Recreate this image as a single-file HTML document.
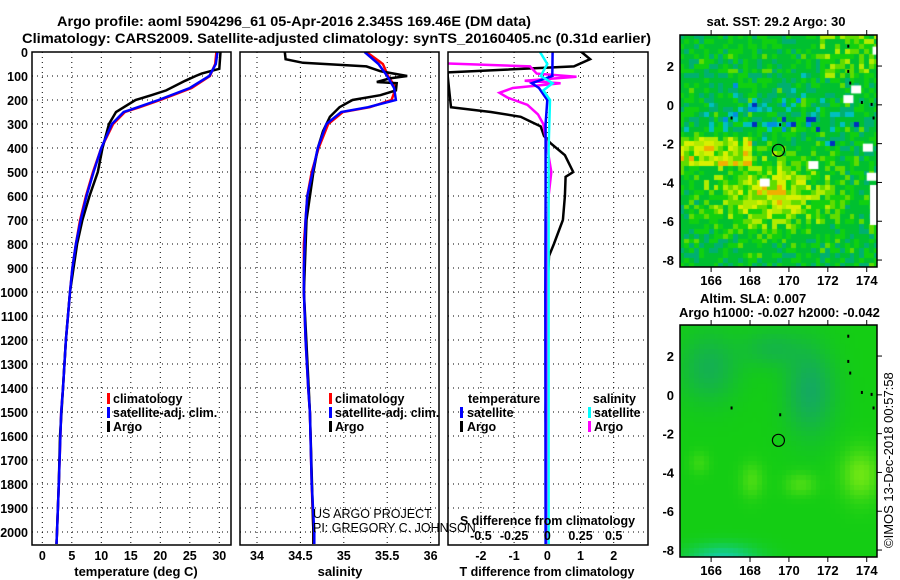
<!DOCTYPE html>
<html><head><meta charset="utf-8"><style>
body{margin:0;background:#fff;width:900px;height:580px;overflow:hidden}
svg{position:absolute;left:0;top:0}
canvas{position:absolute}
text{font-family:"Liberation Sans",sans-serif;font-weight:bold;font-size:12.5px;fill:#000}
</style></head><body>
<canvas id="map1" width="197" height="232" style="left:680px;top:35px"></canvas>
<canvas id="map2" width="197" height="232" style="left:680px;top:325px"></canvas>
<svg id="svg" width="900" height="580"></svg>
<script>
// ---- data (depth in m) ----
const climDepth=[0,50,100,150,200,230,250,300,400,500,600,700,800,900,1000,1200,1400,1500,1800,2000,2050];
const climTemp=[29.5,29.3,28.4,25.3,20,16.5,14,12,10,8.6,7.4,6.4,5.7,5.1,4.7,4.0,3.5,3.2,2.8,2.5,2.4];
const satTemp=[29.7,29.4,28.3,25.0,19.7,16.2,13.8,11.8,10,8.7,7.5,6.5,5.7,5.1,4.7,4.0,3.5,3.2,2.8,2.5,2.4];
const argoDepth=[0,70,90,100,120,160,180,200,250,300,400,500,600,700,800,1000,1200,1400,1600,1800,2000,2050];
const argoTemp=[30.2,30,27,26,24.2,21,18.5,15.8,12.5,11.3,10.2,9.4,8.0,6.8,5.9,4.7,4.0,3.5,3.0,2.8,2.5,2.4];
const climSal=[35.26,35.45,35.51,35.6,35.55,35.3,34.99,34.82,34.71,34.63,34.58,34.56,34.54,34.54,34.54,34.56,34.59,34.61,34.63,34.65,34.65];
const satSal=[35.24,35.4,35.5,35.58,35.6,35.28,34.97,34.8,34.7,34.64,34.58,34.56,34.55,34.54,34.54,34.56,34.59,34.61,34.63,34.66,34.66];
const argoSalDepth=[0,30,45,60,80,100,110,125,130,160,180,200,230,270,330,400,500,700,1000,1500,2000,2050];
const argoSal=[34.32,34.33,34.53,35.26,35.42,35.73,35.53,35.38,35.61,35.6,35.42,35.1,34.95,34.84,34.76,34.7,34.65,34.57,34.54,34.61,34.65,34.65];
const dTDepth=[0,30,60,85,100,230,250,270,290,310,350,380,430,500,520,600,700,800,850,1000,1500,2050];
const dTArgo=[1.03,1.29,0.8,-3,-3,-2.9,-1.7,-0.8,-0.5,-0.2,-0.1,0.1,0.53,0.78,0.55,0.53,0.47,0.2,0.05,0,-0.05,0];
const dTSatDepth=[0,100,130,150,200,300,600,1000,2050];
const dTSat=[0.16,0.15,-0.47,-0.25,0,-0.05,-0.05,-0.06,-0.05];
const dSDepth=[0,45,60,90,103,120,130,150,170,190,220,260,300,400,500,600,800,2050];
const dSArgo=[-0.9,-0.9,-0.13,-0.08,0.22,-0.17,0.1,-0.26,-0.36,-0.3,-0.15,-0.07,-0.03,0,0.03,0.01,0,0];
const dSSatDepth=[0,50,100,130,160,200,400,1000,2050];
const dSSat=[-0.055,0,-0.05,0.04,-0.03,0.02,0.01,0.01,0.01];
const depthTicks=[0,100,200,300,400,500,600,700,800,900,1000,1100,1200,1300,1400,1500,1600,1700,1800,1900,2000];
const tTicks=[0,5,10,15,20,25,30];
const sTicks=[34,34.5,35,35.5,36];
const dTTicks=[-2,-1,0,1,2];
const dSTicks=[-0.5,-0.25,0,0.25,0.5];
const lonTicks=[166,168,170,172,174];
const latTicks=[2,0,-2,-4,-6,-8];

const NS="http://www.w3.org/2000/svg";
const svg=document.getElementById('svg');
function el(tag,attrs,parent){const e=document.createElementNS(NS,tag);for(const k in attrs)e.setAttribute(k,attrs[k]);(parent||svg).appendChild(e);return e;}
function txt(x,y,s,anchor,extra){const t=el('text',Object.assign({x:x,y:y,'text-anchor':anchor||'start'},extra||{}));t.textContent=s;return t;}
const yD=d=>52+d*0.24;
const Y0=52,Y1=545;
const panels=[{x0:32,x1:231},{x0:240,x1:439},{x0:448,x1:648}];
const xT=v=>42.3+v*5.9;
const xS=v=>257+(v-34)*86.8;
const xdT=v=>547.3+v*33.2;
const xdS=v=>547.3+v*132.8;

const defs=el('defs',{});
panels.forEach((p,i)=>{const c=el('clipPath',{id:'c'+i},defs);el('rect',{x:p.x0,y:Y0,width:p.x1-p.x0,height:Y1-Y0},c);});

function grid(p,xs,name){
  const g=el('g',{'clip-path':'url(#c'+panels.indexOf(p)+')'});
  
  xs.forEach(x=>el('line',{x1:x,x2:x,y1:Y0,y2:Y1,stroke:'#000','stroke-width':1,'stroke-dasharray':'1,4'},g));
  depthTicks.forEach(d=>el('line',{x1:p.x0,x2:p.x1,y1:yD(d),y2:yD(d),stroke:'#000','stroke-width':1,'stroke-dasharray':'1,4'},g));
}
grid(panels[0],tTicks.map(xT),'temperature');
grid(panels[1],sTicks.map(xS),'salinity');
grid(panels[2],dTTicks.map(xdT),'difference');

function line(depths,vals,fx,color,pi,name,w){
  const pts=depths.map((d,i)=>fx(vals[i]).toFixed(1)+','+yD(d).toFixed(1)).join(' ');
  const pl=el('polyline',{points:pts,fill:'none',stroke:color,'stroke-width':w||2.5,'clip-path':'url(#c'+pi+')'});
  
}
line(climDepth,climTemp,xT,'#f00',0,'temp-climatology-line');
line(argoDepth,argoTemp,xT,'#000',0,'temp-argo-line');
line(climDepth,satTemp,xT,'#00f',0,'temp-satellite-line');
line(climDepth,climSal,xS,'#f00',1,'sal-climatology-line');
line(argoSalDepth,argoSal,xS,'#000',1,'sal-argo-line');
line(climDepth,satSal,xS,'#00f',1,'sal-satellite-line');
line(dTDepth,dTArgo,xdT,'#000',2,'dtemp-argo-line');
line(dSDepth,dSArgo,xdS,'#f0f',2,'dsal-argo-line');
line(dTSatDepth,dTSat,xdT,'#00f',2,'dtemp-satellite-line');
line(dSSatDepth,dSSat,xdS,'#0ff',2,'dsal-satellite-line');

panels.forEach((p,i)=>{
  const r=el('rect',{x:p.x0,y:Y0,width:p.x1-p.x0,height:Y1-Y0,fill:'none',stroke:'#000','stroke-width':1.5});
  
});
depthTicks.forEach(d=>{
  const t=txt(28,yD(d)+5,String(d),'end');
  
});
tTicks.forEach(v=>{const t=txt(xT(v),560,String(v),'middle');});
sTicks.forEach(v=>{const t=txt(xS(v),560,String(v),'middle');});
dTTicks.forEach(v=>{const t=txt(xdT(v),560,String(v),'middle');});
dSTicks.forEach(v=>{const t=txt(xdS(v),540,String(v),'middle');});

let t;
t=txt(57,26,'Argo profile: aoml 5904296_61 05-Apr-2016 2.345S 169.46E (DM data)','start',{style:'font-size:14px',textLength:474,lengthAdjust:'spacingAndGlyphs'});
t=txt(22,43,'Climatology: CARS2009. Satellite-adjusted climatology: synTS_20160405.nc (0.31d earlier)','start',{style:'font-size:14px',textLength:629,lengthAdjust:'spacingAndGlyphs'});
t=txt(136,576,'temperature (deg C)','middle',{style:'font-size:13px'});
t=txt(340,576,'salinity','middle',{style:'font-size:13px'});
t=txt(547,576,'T difference from climatology','middle',{style:'font-size:13px',textLength:175,lengthAdjust:'spacingAndGlyphs'});
t=txt(460,525,'S difference from climatology','start',{style:'font-size:13px',textLength:175,lengthAdjust:'spacingAndGlyphs'});
t=txt(313,518,'US ARGO PROJECT','start',{style:'font-weight:normal;font-size:12.5px'});
t=txt(313,532,'PI: GREGORY C. JOHNSON','start',{style:'font-weight:normal;font-size:12.5px'});

function leg(bx,tx,y,color,label,anchor){
  const b=el('rect',{x:bx,y:y-10,width:3,height:11,fill:color});
  
  const l=txt(tx,y,label,anchor||'start');
  
}
leg(107,113,403,'#f00','climatology');leg(107,113,417,'#00f','satellite-adj. clim.');leg(107,113,431,'#000','Argo');
leg(329,335,403,'#f00','climatology');leg(329,335,417,'#00f','satellite-adj. clim.');leg(329,335,431,'#000','Argo');
t=txt(468,403,'temperature');
leg(460,467,417,'#00f','satellite');leg(460,467,431,'#000','Argo');
t=txt(636,403,'salinity','end');
leg(588,594,417,'#0ff','satellite');leg(588,594,431,'#f0f','Argo');

// ---- maps ----
const lonX=v=>680+(v-164.4)*19.45;
function latY(v,top){return top+(3.6-v)*19.4;}
function hash(i,j,s){let h=(i*374761393+j*668265263+s*1442695041)|0;h=(h^(h>>>13))*1274126177|0;return ((h^(h>>>16))>>>0)/4294967296;}
function drawMapAxes(top,name){
  const r=el('rect',{x:680,y:top,width:197,height:232,fill:'none',stroke:'#000','stroke-width':1.5});
  
  lonTicks.forEach(v=>{
    el('line',{x1:lonX(v),x2:lonX(v),y1:top,y2:top-5,stroke:'#000'});
    el('line',{x1:lonX(v),x2:lonX(v),y1:top+232,y2:top+237,stroke:'#000'});
    const l=txt(lonX(v),top+250,String(v),'middle',{style:'font-size:13px'});
  });
  latTicks.forEach(v=>{
    el('line',{x1:877,x2:882,y1:latY(v,top),y2:latY(v,top),stroke:'#000'});
    const l=txt(674,latY(v,top)+5,String(v),'end',{style:'font-size:13px'});
  });
  const c=el('circle',{cx:lonX(169.46),cy:latY(-2.345,top),r:6,fill:'none',stroke:'#000','stroke-width':1.2});
  
  [[173,3.1],[173,1.8],[173.1,1.2],[173.7,0.2],[174.2,0.1],[174.3,-0.6],[167,-0.6],[169.5,-0.95]].forEach(p=>el('rect',{x:lonX(p[0]),y:latY(p[1],top),width:2,height:3,fill:'#000'}));
}
(function(){
  const cx=document.getElementById('map1').getContext('2d');
  const cs=4.86;
  for(let i=0;i<41;i++)for(let j=0;j<48;j++){
    const lon=164.4+i*0.25,lat=3.6-j*0.25;
    let v=0.5+(hash(i,j,1)-0.5)*0.28;
    const yel=Math.exp(-(((lon-169)/3)**2+((lat+4.5)/1.8)**2));
    v+=yel*0.28;
    if(lat<-1.5&&lat>-3&&lon<168)v+=0.22;
    if(lat>1.5&&lon>171.5)v+=0.12;
    const cyan=Math.exp(-(((lon-168)/2.2)**2+((lat+0.7)/0.9)**2))+Math.exp(-(((lon-172.3)/1.0)**2+((lat+0.5)/0.9)**2))+0.6*Math.exp(-(((lon-170)/1.0)**2+((lat-0.7)/0.6)**2));
    if(hash(i,j,3)<cyan*0.55)v-=0.18+0.15*hash(i,j,4);
    let col;
    if(v<0.12)col='#0030c0';else if(v<0.2)col='#0090e0';else if(v<0.3)col='#00c0c0';else if(v<0.42)col='#00b070';
    else if(v<0.55)col='#00c030';else if(v<0.63)col='#10d010';else if(v<0.7)col='#60dc00';else if(v<0.78)col='#b0ec00';else if(v<0.86)col='#d8f000';else col='#f0b000';
    cx.fillStyle=col;cx.fillRect(Math.floor(i*cs),Math.floor(j*cs),Math.ceil(cs),Math.ceil(cs));
  }
  cx.fillStyle='#fff';
  [[173.8,-2],[174,-3.5],[172.8,0.5],[168.5,-3.8],[171,-2.9],[174.3,3],[173.2,1]].forEach(p=>cx.fillRect((p[0]-164.4)*19.45,(3.6-p[1])*19.4,10,8));
  cx.fillRect(190,150,7,40);
})();
(function(){
  const cx=document.getElementById('map2').getContext('2d');
  const cs=4.86;
  for(let i=0;i<41;i++)for(let j=0;j<48;j++){
    const lon=164.4+i*0.25,lat=3.6-j*0.25;
    const blue=Math.exp(-(((lon-171)/1.3)**2+((lat-0.3)/2.3)**2))+0.8*Math.exp(-(((lon-165.8)/1.5)**2+((lat-1.5)/1.8)**2))+0.6*Math.exp(-(((lon-169)/1.5)**2+((lat-2.5)/1.0)**2));
    const lime=Math.exp(-(((lon-173.6)/1)**2+((lat+4)/1.3)**2))+0.6*Math.exp(-(((lon-170.5)/0.8)**2+((lat+4.5)/0.6)**2))+0.6*Math.exp(-(((lon-168)/0.6)**2+((lat+4.3)/0.9)**2))+0.4*Math.exp(-(((lon-165.3)/0.5)**2+((lat+3.4)/0.6)**2));
    const teal=Math.exp(-(((lon-166.5)/1.8)**2+((lat+8.3)/0.7)**2));
    const r=Math.round(20+lime*90),g=Math.round(205-blue*35+lime*25),b=Math.round(20+blue*75+teal*140);
    cx.fillStyle='rgb('+r+','+g+','+b+')';cx.fillRect(Math.floor(i*cs),Math.floor(j*cs),Math.ceil(cs),Math.ceil(cs));
  }
})();
drawMapAxes(35,'sst-map');
drawMapAxes(325,'sla-map');
t=txt(776,26,'sat. SST: 29.2 Argo: 30','middle',{style:'font-size:13px'});
t=txt(700,303,'Altim. SLA: 0.007','start',{style:'font-size:13px'});
t=txt(679,317,'Argo h1000: -0.027 h2000: -0.042','start',{style:'font-size:13px'});
t=txt(893,548,'©IMOS 13-Dec-2018 00:57:58','start',{style:'font-weight:normal;font-size:13px',transform:'rotate(-90 893 548)'});
</script>
</body></html>
